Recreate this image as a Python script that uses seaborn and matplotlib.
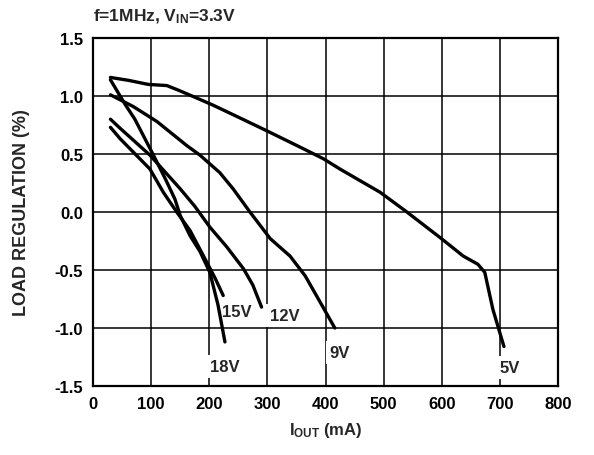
import matplotlib
matplotlib.use("Agg")
import matplotlib.pyplot as plt
import seaborn as sns
import pandas as pd

# ---- data ----
x_5v = [30, 61, 95, 127, 147, 175, 207, 249, 299, 356, 396, 425, 494, 540, 597, 637, 662, 674, 688, 707]
y_5v = [1.16, 1.135, 1.10, 1.09, 1.05, 0.99, 0.92, 0.82, 0.70, 0.56, 0.46, 0.37, 0.17, 0.0, -0.22, -0.38, -0.45, -0.52, -0.84, -1.16]

x_9v = [30, 69, 110, 162, 184, 218, 241, 270, 305, 339, 365, 390, 416]
y_9v = [1.01, 0.91, 0.78, 0.57, 0.49, 0.34, 0.20, 0.0, -0.23, -0.38, -0.55, -0.77, -1.0]

x_12v = [30, 47, 98, 150, 175, 201, 230, 259, 275, 290]
y_12v = [0.80, 0.72, 0.49, 0.20, 0.05, -0.13, -0.30, -0.49, -0.63, -0.82]

x_15v = [30, 47, 98, 121, 144, 167, 196, 210, 224]
y_15v = [0.73, 0.63, 0.37, 0.17, 0.0, -0.16, -0.435, -0.57, -0.72]

x_18v = [30, 55, 72, 104, 125, 141, 150, 167, 184, 201, 215, 227]
y_18v = [1.14, 0.93, 0.80, 0.49, 0.28, 0.11, -0.03, -0.205, -0.34, -0.52, -0.80, -1.12]

series_names = ["5V", "9V", "12V", "15V", "18V"]
label_x = [717, 425, 330, 247, 227]
label_y = [-1.34, -1.21, -0.89, -0.86, -1.33]

x_ticks = [0, 100, 200, 300, 400, 500, 600, 700, 800]
y_ticks = [-1.5, -1.0, -0.5, 0.0, 0.5, 1.0, 1.5]
y_tick_labels = ["-1.5", "-1.0", "-0.5", "0.0", "0.5", "1.0", "1.5"]

frames = []
for name, xs, ys in zip(series_names,
                        [x_5v, x_9v, x_12v, x_15v, x_18v],
                        [y_5v, y_9v, y_12v, y_15v, y_18v]):
    frames.append(pd.DataFrame({"iout": xs, "reg": ys, "vout": name}))
df = pd.concat(frames, ignore_index=True)

sns.set_theme(style="white")
plt.rcParams["font.family"] = ["Liberation Sans", "DejaVu Sans"]
plt.rcParams["font.weight"] = "bold"
plt.rcParams["mathtext.fontset"] = "custom"
plt.rcParams["mathtext.rm"] = "Liberation Sans:bold"
plt.rcParams["mathtext.it"] = "Liberation Sans:bold"
plt.rcParams["mathtext.bf"] = "Liberation Sans:bold"

fig = plt.figure(figsize=(5.94, 4.56), dpi=100)
ax = fig.add_axes([93 / 594, 1 - 387 / 456, (558 - 93) / 594, (387 - 39) / 456])

sns.lineplot(data=df, x="iout", y="reg", hue="vout", units="vout", estimator=None,
             sort=False, palette=["black"] * 5, linewidth=2.4, legend=False,
             ax=ax, zorder=4)

ax.set_xlim(0, 800)
ax.set_ylim(-1.5, 1.5)
ax.set_xticks(x_ticks)
ax.set_yticks(y_ticks)
ax.set_yticklabels(y_tick_labels)
ax.grid(True, color="black", linewidth=1.1, zorder=1)
ax.set_axisbelow(True)
for sp in ax.spines.values():
    sp.set_color("black")
    sp.set_linewidth(1.6)
    sp.set_zorder(5)
ax.tick_params(axis="both", length=0, pad=7, labelsize=12, colors="black")
for lab in ax.get_xticklabels() + ax.get_yticklabels():
    lab.set_fontweight("bold")

for name, lx, ly in zip(series_names, label_x, label_y):
    ax.text(lx, ly, name, ha="center", va="center", fontsize=12, fontweight="bold",
            zorder=3, bbox=dict(facecolor="white", edgecolor="none", pad=3))

ax.set_xlabel(r"I$_{\mathregular{OUT}}$ (mA)", fontsize=12, fontweight="bold", labelpad=7)
ax.set_ylabel("LOAD REGULATION (%)", fontsize=13, fontweight="bold", labelpad=18)

fig.text(93 / 594, 1 - 17 / 456, r"f=1MHz, V$_{\mathregular{IN}}$=3.3V",
         ha="left", va="center", fontsize=12.5, fontweight="bold")

fig.savefig("out.png", dpi=100, facecolor="white")
